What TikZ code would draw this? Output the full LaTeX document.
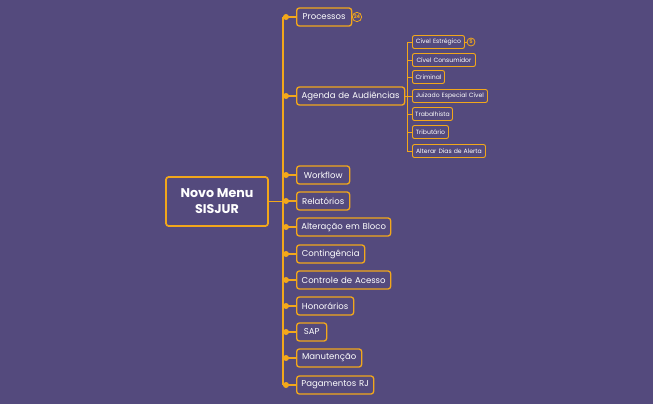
\documentclass[tikz,border=0pt]{standalone}
\usepackage{fontspec}
\setmainfont{Poppins}
\begin{document}
\begin{tikzpicture}[x=0.75pt,y=-0.75pt,
  every node/.style={text=white},
  rootbox/.style={draw=orgc,line width=1.3pt,rounded corners=2pt,minimum width=102*0.75pt,minimum height=49*0.75pt,font=\fontsize{9.5}{12}\selectfont\bfseries,align=center,inner sep=1pt},
  kid/.style={draw=orgc,line width=1pt,rounded corners=2pt,anchor=west,minimum height=18*0.75pt,font=\fontsize{6.4}{7}\selectfont,inner sep=0pt,text width=#1*0.75pt,align=center},
  sub/.style={draw=orgc,line width=0.7pt,rounded corners=1.5pt,anchor=west,minimum height=13*0.75pt,font=\fontsize{4.6}{5}\selectfont,inner sep=0pt,text width=#1*0.75pt,align=center},
  ln/.style={draw=orgc,line width=1pt},
  badge/.style={circle,draw=orgc,line width=0.6pt,inner sep=0pt,minimum size=7pt,font=\fontsize{3.8}{4}\selectfont\bfseries,text=orgc}]
\definecolor{orgc}{HTML}{F2A71B}
\definecolor{bgc}{HTML}{544A7D}
\fill[bgc] (0,0) rectangle (653,404);
\node[rootbox] (root) at (217,201.5) {Novo Menu\\SISJUR};
\foreach \n/\y/\w/\t in {a/17/55/Processos,b/96/108/Agenda de Audiências,c/175/53/Workflow,d/201/53/Relatórios,e/227/94/Alteração em Bloco,f/254/68/Contingência,g/280/94/Controle de Acesso,h/306/57/Honorários,i/332/30/SAP,j/358/65/Manutenção,k/385/77/Pagamentos RJ}{
  \node[kid=\w] (\n) at (296,\y) {\t};
  \coordinate (c\n) at (283,\y);
  \draw[ln] (c\n) -- (\n.west);
  \fill[orgc] (286,\y) circle (3);
}
\draw[ln] (root.east) -- (283,201.5);
\draw[ln,rounded corners=3pt] (ca) -- (ck);
\node[badge] (ba) at (357,17) {24};
\draw[orgc,line width=0.6pt] (a.east) -- (ba.west);
\foreach \n/\y/\w/\t in {s1/42/52/Cível Estrégico,s2/60/63/Cível Consumidor,s3/77/32/Criminal,s4/96/75/Juizado Especial Cível,s5/114/40/Trabalhista,s6/132/36/Tributário,s7/151/73/Alterar Dias de Alerta}{
  \node[sub=\w] (\n) at (412,\y) {\t};
  \coordinate (c\n) at (407,\y);
  \draw[orgc,line width=0.7pt] (c\n) -- (\n.west);
}
\draw[orgc,line width=0.7pt] (b.east) -- (cs4);
\draw[orgc,line width=0.7pt] (cs1) -- (cs7);
\node[badge,minimum size=6pt] (bs) at (471,42) {5};
\draw[orgc,line width=0.6pt] (s1.east) -- (bs.west);
\end{tikzpicture}
\end{document}
